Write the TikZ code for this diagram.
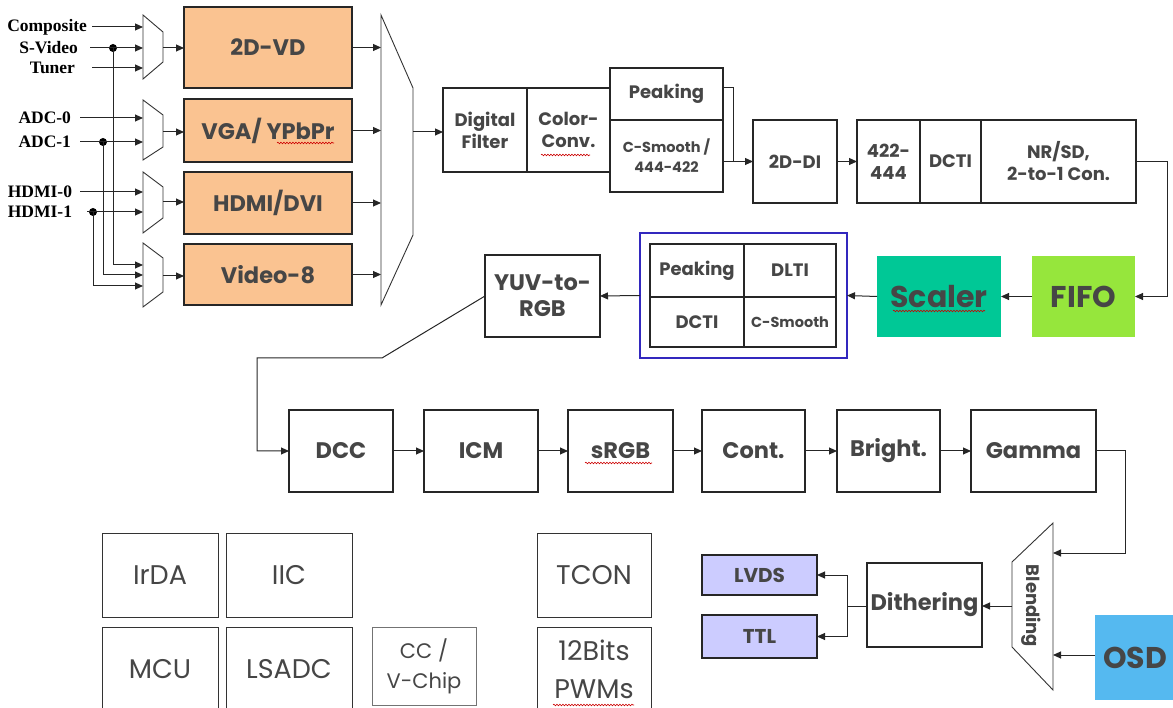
\documentclass[tikz,border=0pt]{standalone}
\usepackage{fontspec}
\setmainfont{Poppins}
\newfontfamily\serifbf{Liberation Serif}
\usetikzlibrary{arrows.meta,calc,decorations.pathmorphing}
\definecolor{peach}{RGB}{250,195,145}
\definecolor{tealbox}{RGB}{0,200,150}
\definecolor{fifogreen}{RGB}{150,230,60}
\definecolor{lavender}{RGB}{204,204,255}
\definecolor{osdblue}{RGB}{85,185,240}
\definecolor{frameblue}{RGB}{50,40,190}
\definecolor{txtgray}{RGB}{70,70,70}
\begin{document}
\begin{tikzpicture}[x=1pt,y=-1pt,
  every node/.style={inner sep=0pt,outer sep=0pt},
  sz/.style 2 args={minimum width=#1,minimum height=#2},
  blk/.style={draw=black!85,line width=1.1pt,fill=white,align=center,text=txtgray,
    font=\fontsize{18}{22}\selectfont\bfseries},
  bigtxt/.style={font=\fontsize{22.5}{26}\selectfont\bfseries},
  hugetxt/.style={font=\fontsize{30}{34}\selectfont\bfseries},
  midtxt/.style={font=\fontsize{20}{24}\selectfont\bfseries},
  smalltxt/.style={font=\fontsize{14.5}{20}\selectfont\bfseries},
  plain/.style={draw=black!80,line width=1pt,fill=white,align=center,text=txtgray,
    font=\fontsize{27}{38}\selectfont},
  inlbl/.style={anchor=east,font=\serifbf\fontsize{17.5}{19}\selectfont\bfseries},
  mux/.style={draw=black!80,line width=0.9pt,fill=white},
  ln/.style={draw=black!85,line width=1pt},
  arr/.style={ln,-{Triangle[length=8pt,width=7pt]}},
  dot/.style={circle,fill=black,minimum size=8pt},
  squig/.style={draw=red!80!black,line width=0.6pt,decorate,
    decoration={snake,amplitude=0.8pt,segment length=3pt}}
]
\useasboundingbox (0,0) rectangle (1173,708);

% ---------- input labels ----------
\node[inlbl] (lcomp) at (87,27) {Composite};
\node[inlbl] (lsvid) at (78,48) {S-Video};
\node[inlbl] (ltun)  at (75,68) {Tuner};
\node[inlbl] (ladc0) at (71,118) {ADC-0};
\node[inlbl] (ladc1) at (71,142) {ADC-1};
\node[inlbl] (lhd0)  at (72,192) {HDMI-0};
\node[inlbl] (lhd1)  at (72,212) {HDMI-1};

% ---------- input muxes ----------
\draw[mux] (143,15) -- (163,32) -- (163,62) -- (143,79) -- cycle;
\draw[mux] (143,100) -- (163,115) -- (163,147) -- (143,160) -- cycle;
\draw[mux] (143,172) -- (163,187) -- (163,218) -- (143,233) -- cycle;
\draw[mux] (143,243) -- (163,258) -- (163,292) -- (143,307) -- cycle;
\coordinate (mxl) at (143,0);

% dots
\node[dot] (dsv) at (113,48) {};
\node[dot] (dadc) at (103,142) {};
\node[dot] (dhd) at (93,212) {};

% input lines
\draw[arr,shorten <=5pt] (lcomp.east) -- (lcomp.east -| mxl);
\draw[arr,shorten <=12pt] (lsvid.east) -- (lsvid.east -| mxl);
\draw[arr,shorten <=17pt] (ltun.east) -- (ltun.east -| mxl);
\draw[arr,shorten <=9pt] (ladc0.east) -- (ladc0.east -| mxl);
\draw[arr,shorten <=9pt] (ladc1.east) -- (ladc1.east -| mxl);
\draw[arr,shorten <=8pt] (lhd0.east) -- (lhd0.east -| mxl);
\draw[arr,shorten <=15pt] (lhd1.east) -- (lhd1.east -| mxl);
\coordinate (v8a) at (143,265);
\coordinate (v8b) at (143,275);
\coordinate (v8c) at (143,286);
\draw[arr] (dsv.center) |- (v8a);
\draw[arr] (dadc.center) |- (v8b);
\draw[arr] (dhd.center) |- (v8c);

% ---------- front-end blocks ----------
\node[blk,fill=peach,bigtxt,sz={168}{81}] (vd)  at (268,47.5) {2D-VD};
\node[blk,fill=peach,bigtxt,sz={168}{63}] (vga) at (268,130.5) {VGA/ YPbPr};
\node[blk,fill=peach,bigtxt,sz={168}{62}] (hdmi) at (268,203) {HDMI/DVI};
\node[blk,fill=peach,bigtxt,sz={168}{61}] (v8)  at (268,274.5) {Video-8};
\draw[squig] (277,143) -- (334,143);

\draw[arr] (163,48) -- (vd.west |- 0,48);
\draw[arr] (163,132) -- (vga.west |- 0,132);
\draw[arr] (163,202) -- (hdmi.west |- 0,202);
\draw[arr] (163,276) -- (v8.west |- 0,276);

% ---------- big mux ----------
\draw[mux] (381,15) -- (413,88) -- (413,235) -- (381,305) -- cycle;
\coordinate (bml) at (381,0);
\coordinate (bmo) at (413,132);
\draw[arr] (vd.east) -- (vd.east -| bml);
\draw[arr] (vga.east) -- (vga.east -| bml);
\draw[arr] (hdmi.east) -- (hdmi.east -| bml);
\draw[arr] (v8.east) -- (v8.east -| bml);

% ---------- digital filter group ----------
\node[blk,sz={84}{84}] (df) at (485,130) {Digital\\Filter};
\node[blk,sz={83}{84}] (cc) at (568.5,130) {Color-\\Conv.};
\draw[squig] (541,155) -- (590,155);
\node[blk,sz={113}{52}] (peak) at (666.5,94) {Peaking};
\node[blk,smalltxt,sz={113}{72}] (csm) at (666.5,156) {C-Smooth /\\444-422};
\draw[arr] (bmo) -- (bmo -| df.west);

\node[blk,sz={84}{83}] (dd) at (795,161.5) {2D-DI};
\coordinate (pkc) at (733,0);
\draw[ln] ($(peak.north east)+(0,20)$) -| (pkc |- dd.west);
\draw[arr] (csm.east |- dd.west) -- (dd.west);

\node[blk,sz={63}{83}] (b422) at (888.5,161.5) {422-\\444};
\node[blk,sz={61}{83}] (dcti) at (950.5,161.5) {DCTI};
\node[blk,sz={155}{83}] (nr) at (1058.5,161.5) {NR/SD,\\2-to-1 Con.};
\draw[arr] (dd.east) -- (b422.west);

% ---------- second row ----------
\node[blk,fill=fifogreen,draw=none,hugetxt,sz={103}{81}] (fifo) at (1083.5,296.5) {FIFO};
\node[blk,fill=tealbox,draw=none,hugetxt,sz={124}{81}] (scaler) at (939,296.5) {Scaler};
\draw[squig] (893,311) -- (985,311);
\coordinate (nrc) at (1167,0);
\draw[arr] (nr.east) -- (nr.east -| nrc) -- (nrc |- fifo.east) -- (fifo.east);
\draw[arr] (fifo.west) -- (scaler.east);

\node[draw=frameblue,line width=2pt,fill=white,sz={207}{125}] (bluebox) at (743.5,295.5) {};
\node[blk,sz={94}{53}] (pk2) at (697,270.5) {Peaking};
\node[blk,sz={92}{53}] (dlti) at (790,270.5) {DLTI};
\node[blk,sz={94}{50}] (dcti2) at (697,322) {DCTI};
\node[blk,smalltxt,sz={92}{50}] (csm2) at (790,322) {C-Smooth};
\draw[arr] (scaler.west) -- (bluebox.east);

\node[blk,bigtxt,sz={115}{82}] (yuv) at (542.5,296) {YUV-to-\\RGB};
\draw[arr] (bluebox.west) -- (yuv.east);

% ---------- third row ----------
\node[blk,bigtxt,sz={104}{82}] (dcc) at (341,451) {DCC};
\node[blk,bigtxt,sz={114}{82}] (icm) at (481,451) {ICM};
\node[blk,bigtxt,sz={105}{82}] (srgb) at (620.5,451) {sRGB};
\node[blk,bigtxt,sz={103}{82}] (cont) at (753.5,451) {Cont.};
\node[blk,bigtxt,sz={103}{82}] (bright) at (888.5,451) {Bright.};
\node[blk,bigtxt,sz={125}{82}] (gamma) at (1033.5,451) {Gamma};
\draw[squig] (585,463) -- (652,463);
\coordinate (yk1) at (382,358);
\coordinate (yk2) at (257,358);
\draw[arr] (yuv.west) -- (yk1) -- (yk2) |- (dcc.west);
\draw[arr] (dcc) -- (icm);
\draw[arr] (icm) -- (srgb);
\draw[arr] (srgb) -- (cont);
\draw[arr] (cont) -- (bright);
\draw[arr] (bright) -- (gamma);

% ---------- output stage ----------
\draw[mux] (1012,562) -- (1053,523) -- (1053,690) -- (1012,647) -- cycle;
\node[rotate=-90,text=txtgray,font=\fontsize{18}{20}\selectfont\bfseries] (blend) at (1031,606) {Blending};
\coordinate (blin1) at (1053,553);
\coordinate (blin2) at (1053,655);
\coordinate (blout) at (1012,606);
\coordinate (gk) at (1125,553);
\draw[arr] (gamma.east) -| (gk) -- (blin1);

\node[blk,fill=osdblue,draw=none,hugetxt,sz={80}{85}] (osd) at (1135,657.5) {OSD};
\draw[arr] (osd.west |- blin2) -- (blin2);

\node[blk,bigtxt,sz={115}{84}] (dith) at (924.5,605) {Dithering};
\draw[arr] (blout) -- (blout -| dith.east);

\node[blk,fill=lavender,midtxt,sz={115}{40}] (lvds) at (759.5,575) {LVDS};
\node[blk,fill=lavender,midtxt,sz={115}{43}] (ttl) at (759.5,636.5) {TTL};
\coordinate (fork) at (847,606);
\draw[ln] (dith.west |- fork) -- (fork);
\draw[arr] (fork) |- (lvds.east);
\draw[arr] (fork) |- (ttl.east);

% ---------- misc blocks ----------
\node[plain,sz={116}{84}] (irda) at (160,575) {IrDA};
\node[plain,sz={126}{84}] (iic) at (289,575) {IIC};
\node[plain,sz={116}{84}] (mcu) at (160,669) {MCU};
\node[plain,sz={126}{84}] (lsadc) at (289,669) {LSADC};
\node[plain,draw=black!55,font=\fontsize{21}{30}\selectfont,sz={104}{78}] (ccv) at (424,666) {CC /\\V-Chip};
\node[plain,sz={114}{84}] (tcon) at (594,575) {TCON};
\node[plain,sz={114}{84}] (pwm) at (594,669) {12Bits\\PWMs};
\draw[squig] (553,705) -- (634,705);
\end{tikzpicture}
\end{document}
